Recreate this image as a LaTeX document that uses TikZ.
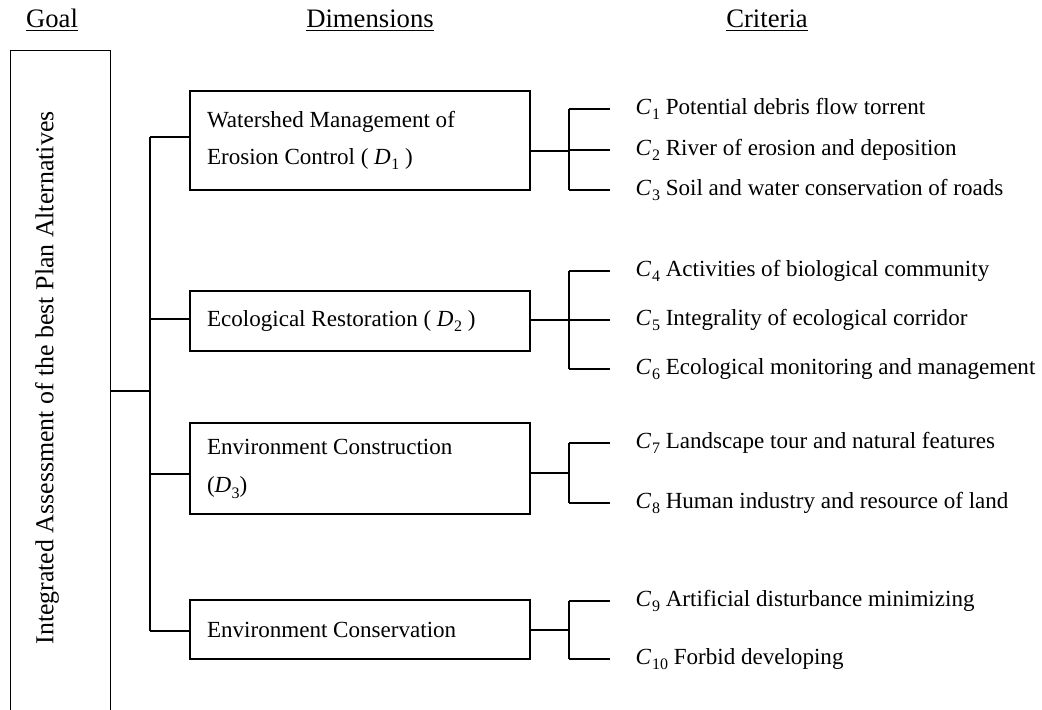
\documentclass[tikz,border=0pt]{standalone}
\usepackage{fontspec}
\setmainfont{Liberation Serif}
\newcommand\lowsub[1]{\raisebox{-0.5ex}{\fontsize{12}{12}\selectfont #1}}
\newcommand\Cs[1]{\textit{C}\kern0.5pt\lowsub{#1}}
\newcommand\Ds[1]{\textit{D}\kern0.3pt\lowsub{#1}}
\begin{document}
\begin{tikzpicture}[x=0.75pt,y=-0.75pt,line width=1.1pt,
  every node/.style={font=\fontsize{17.3}{27.75}\selectfont},
  dimbox/.style={draw,minimum width=255pt,text width=229.5pt,inner xsep=12.75pt,align=flush left,anchor=center},
  crit/.style={anchor=west,inner sep=0pt},
  hdr/.style={inner sep=0pt,anchor=base,font=\fontsize{20}{24}\selectfont}]
\useasboundingbox (0,0) rectangle (1042,710);
% headers
\node[hdr] (hg) at (52,28) {\underline{Goal}};
\node[hdr] (hd) at (370,28) {\underline{Dimensions}};
\node[hdr] (hc) at (767,28) {\underline{Criteria}};
% goal box
\node[draw,minimum width=75pt,minimum height=510pt,anchor=north west,inner sep=0pt] (goal) at (10,50) {};
\node[rotate=90,inner sep=0pt,font=\fontsize{19.4}{24}\selectfont] (goaltext) at (47,378) {Integrated Assessment of the best Plan Alternatives};
% dimension boxes
\node[dimbox,minimum height=74.25pt] (d1) at (360,140.5) {Watershed Management of\\Erosion Control ( \Ds{1} )};
\node[dimbox,minimum height=45pt] (d2) at (360,321) {Ecological Restoration ( \Ds{2} )};
\node[dimbox,minimum height=68.25pt,font=\fontsize{17.3}{29}\selectfont] (d3) at (360,468.5) {Environment Construction\\(\Ds{3})};
\node[dimbox,minimum height=44.25pt] (d4) at (360,629.5) {Environment Conservation};
% criteria
\node[crit] (c1) at (635,109) {\Cs{1} Potential debris flow torrent};
\node[crit] (c2) at (635,150) {\Cs{2} River of erosion and deposition};
\node[crit] (c3) at (635,190) {\Cs{3} Soil and water conservation of roads};
\node[crit] (c4) at (635,271) {\Cs{4} Activities of biological community};
\node[crit] (c5) at (635,320) {\Cs{5} Integrality of ecological corridor};
\node[crit] (c6) at (635,369) {\Cs{6} Ecological monitoring and management};
\node[crit] (c7) at (635,443) {\Cs{7} Landscape tour and natural features};
\node[crit] (c8) at (635,503) {\Cs{8} Human industry and resource of land};
\node[crit] (c9) at (635,601) {\Cs{9} Artificial disturbance minimizing};
\node[crit] (c10) at (635,659) {\Cs{10} Forbid developing};
% left tree
\coordinate (j0) at (150,391);
\coordinate (t1) at (150,137);
\coordinate (t2) at (150,319);
\coordinate (t3) at (150,474);
\coordinate (t4) at (150,631);
\draw (goal.east |- j0) -- (j0);
\draw (t1) -- (t4);
\draw (t1) -- (d1.west |- t1);
\draw (t2) -- (d2.west |- t2);
\draw (t3) -- (d3.west |- t3);
\draw (t4) -- (d4.west |- t4);
% right brackets
\coordinate (b1) at (569,151);
\coordinate (b2) at (569,320);
\coordinate (b3) at (569,473);
\coordinate (b4) at (569,630);
\draw (d1.east |- b1) -- (b1);
\draw (d2.east |- b2) -- (b2);
\draw (d3.east |- b3) -- (b3);
\draw (d4.east |- b4) -- (b4);
\draw (c1.west -| b1) -- (c3.west -| b1);
\draw (c4.west -| b2) -- (c6.west -| b2);
\draw (c7.west -| b3) -- (c8.west -| b3);
\draw (c9.west -| b4) -- (c10.west -| b4);
\foreach \c/\b in {c1/b1,c2/b1,c3/b1,c4/b2,c5/b2,c6/b2,c7/b3,c8/b3,c9/b4,c10/b4}
  \draw (\c.west -| \b) -- ([xshift=-18.75pt]\c.west);
\end{tikzpicture}
\end{document}
